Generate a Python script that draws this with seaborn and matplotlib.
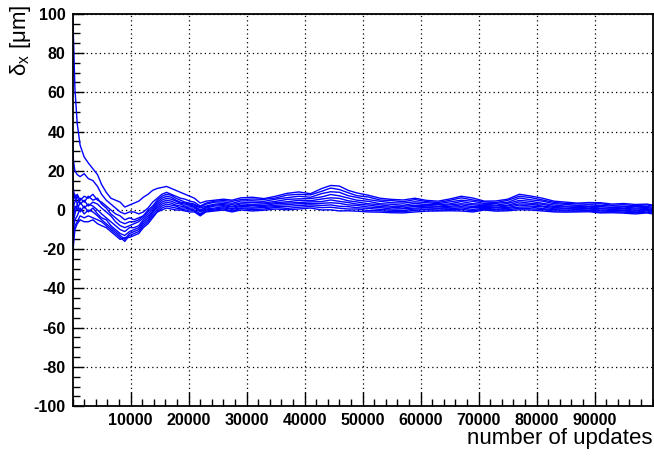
import numpy as np
import pandas as pd
import matplotlib
matplotlib.use("Agg")
import matplotlib.pyplot as plt
import seaborn as sns
from matplotlib.ticker import MultipleLocator

# number of updates at which the alignment constants were sampled
updates = [0, 150, 400, 800, 1300, 2000, 2700, 3500, 4300, 5000, 5800, 6600, 7400,
           8200, 9000, 9800, 10600, 11400, 12200, 13000, 13800, 14600, 15400, 16200,
           17000, 17800, 18600, 19400, 20200, 21000, 22000, 23000, 24500,
           26000, 27500, 29000, 31000, 33000, 35000, 37000, 39000, 41000, 43000,
           44500, 46000, 47500, 49000, 51000, 53000, 55000, 57000, 59000, 61000,
           63000, 65000, 67000, 69000, 71000, 73000, 75000, 77000, 79000, 81000,
           83000, 85000, 87000, 89000, 91000, 93000, 95000, 97000, 99000, 100000]

# delta_x [um] for each module
mod1 = [100, 88, 62, 44, 33, 27, 24, 21, 18, 13, 9, 6, 5, 4, 1.5, 2.5, 3.5, 4.5, 6.5, 8,
        10, 11, 11.5, 12, 11, 10, 9, 8, 7, 6, 3.5, 4.5, 5,
        5.5, 5.0, 6.2, 6.5, 5.8, 7.0, 8.5, 9.2, 8.3, 11.0, 12.5, 12.2, 10.0, 8.7, 7.5,
        6.0, 5.4, 5.1, 6.0, 4.9, 4.5, 5.6, 7.0, 6.1, 4.5, 4.6, 5.5, 8.0, 7.1, 6.0, 4.5,
        4.0, 3.5, 3.8, 3.7, 3.0, 3.3, 2.8, 3.0, 2.5]
mod2 = [40, 25, 20, 18, 17, 18.5, 16, 15, 12, 8, 5, 3, 1, -1, -2, -1, -1, -2, -1, 1,
        4, 6, 8, 9, 8, 7, 6, 5.5, 4.5, 4, 2, 3.5, 4.5,
        4.8, 4.4, 5.3, 5.6, 5.4, 6.1, 7.6, 8.0, 7.7, 9.6, 11.2, 10.4, 8.8, 7.3, 6.6,
        5.1, 4.8, 4.2, 5.3, 4.3, 3.8, 4.9, 6.2, 5.1, 4.1, 3.8, 4.9, 7.0, 6.3, 5.1, 3.9,
        3.3, 3.1, 3.0, 3.2, 2.4, 2.7, 2.2, 2.6, 2.0]
mod3 = [20, 10, 6, 8, 5, 7, 6, 8, 5, 4, 2, 0, -2, -3, -5, -4, -5, -4, -3, 0,
        2, 5, 7, 8, 7.5, 6, 5, 4, 3.5, 3, 1.5, 3, 4,
        4.1, 3.4, 4.6, 4.7, 4.4, 5.5, 6.3, 7.0, 6.5, 8.4, 9.3, 9.0, 7.3, 6.4, 5.3,
        4.4, 3.7, 3.5, 4.2, 3.7, 3.2, 4.1, 5.0, 4.4, 3.3, 3.4, 3.9, 6.1, 5.2, 4.5, 3.2,
        2.9, 2.3, 2.6, 2.3, 2.0, 1.9, 1.7, 1.8, 1.4]
mod4 = [10, 5, 8, 3, 6, 4, 7, 5, 6, 3, 1, -2, -4, -6, -7, -6, -6, -5, -3, -1,
        1, 4, 6, 7, 6.5, 5, 4, 3.5, 3, 2.5, 1, 2, 3,
        3.3, 2.8, 3.6, 3.9, 3.6, 4.4, 5.4, 5.7, 5.8, 6.7, 7.9, 7.2, 6.1, 5.0, 4.4,
        3.2, 2.9, 2.4, 3.4, 2.8, 2.7, 3.1, 4.3, 3.2, 2.9, 2.5, 3.3, 4.9, 4.4, 3.4, 2.5,
        2.0, 1.9, 1.8, 1.8, 1.2, 1.5, 1.0, 1.3, 0.8]
mod5 = [5, 2, 4, 7, 3, 5, 2, 4, 3, 1, -1, -3, -6, -8, -9, -8, -7, -6, -4, -2,
        0, 3, 5, 6, 5.5, 4.5, 3.5, 3, 2.5, 2, 0, 1.5, 2.5,
        2.8, 1.9, 3.1, 2.9, 3.1, 3.7, 4.2, 4.9, 4.7, 5.6, 6.2, 5.9, 4.7, 4.1, 3.2,
        2.6, 1.9, 1.9, 2.4, 2.4, 1.9, 2.6, 3.2, 2.6, 2.2, 2.1, 2.4, 4.1, 3.4, 2.9, 1.7,
        1.6, 1.2, 1.5, 1.0, 0.9, 0.8, 0.5, 0.7, 0.3]
mod6 = [0, -4, 2, 0, 4, 1, 3, 2, 0, -2, -4, -6, -8, -10, -11, -9, -9, -8, -5, -3,
        -1, 2, 4, 5, 4.5, 3.5, 3, 2, 2, 1.5, -0.5, 1, 2,
        2.2, 1.5, 2.3, 2.4, 2.3, 3.2, 3.5, 3.8, 4.1, 4.3, 5.1, 4.4, 3.8, 3.0, 2.5,
        1.7, 1.4, 1.0, 1.9, 1.6, 1.6, 1.8, 2.6, 1.7, 1.9, 1.4, 2.0, 3.1, 2.9, 2.0, 1.3,
        0.9, 0.9, 0.8, 0.7, 0.2, 0.5, -0.1, 0.4, -0.2]
mod7 = [-8, -6, -2, 3, -1, 2, -1, 1, -2, -4, -5, -8, -10, -12, -13, -11, -10, -9, -6, -4,
        -1, 1, 3, 4, 3.5, 2.5, 2, 1.5, 1, 1, -1, 0.5, 1,
        1.7, 0.7, 1.9, 1.5, 1.8, 2.4, 2.7, 3.2, 3.2, 3.4, 3.7, 3.4, 2.6, 2.3, 1.5,
        1.2, 0.5, 0.6, 1.0, 1.3, 0.9, 1.4, 1.7, 1.2, 1.3, 1.1, 1.2, 2.5, 2.0, 1.6, 0.6,
        0.6, 0.3, 0.5, 0.0, -0.2, -0.2, -0.6, -0.1, -0.7]
mod8 = [-15, -9, -5, -3, 1, -2, 0, -1, -3, -5, -7, -9, -11, -13, -15, -12, -11, -10, -7, -5,
        -2, 0, 2, 3, 2.5, 2, 1, 1, 0.5, 0, -2, 0, 0.5,
        1.1, 0.3, 1.1, 0.9, 1.3, 1.7, 1.8, 2.3, 2.6, 2.3, 2.6, 1.9, 1.7, 1.2, 0.8,
        0.3, -0.1, -0.3, 0.5, 0.5, 0.6, 0.6, 1.1, 0.3, 0.9, 0.4, 0.8, 1.5, 1.5, 0.7, 0.2,
        -0.1, 0.0, -0.2, -0.5, -0.7, -0.5, -1.1, -0.5, -1.1]
mod9 = [-22, -12, -8, -6, -3, -4, -3, -4, -5, -6, -8, -10, -12, -14, -16, -13, -12, -11, -8, -6,
        -3, -1, 1, 2, 1.5, 1, 0.5, 0, 0, -0.5, -2.5, -0.5, 0,
        0.6, -0.5, 0.7, 0.2, 0.5, 1.3, 0.8, 1.4, 1.8, 1.2, 1.4, 0.9, 0.5, 0.5, -0.3,
        -0.4, -0.8, -0.9, -0.2, 0.2, -0.1, 0.2, 0.4, -0.4, 0.4, 0.1, 0.1, 0.9, 0.6, 0.3, -0.5,
        -0.5, -0.6, -0.4, -1.1, -1.0, -1.1, -1.4, -1.2, -1.6]
mod10 = [-28, -18, -10, -7, -5, -6, -6, -5, -7, -8, -9, -11, -13, -15, -14, -14, -13, -12, -9, -7,
         -4, -1, 0, 1, 0.5, 0, 0, -0.5, -1, -1, -3, -1, -0.5,
         0.0, -1.0, 0.0, -0.5, -0.1, 0.5, 0.1, 0.5, 1.0, 0.0, 0.1, -0.5, -0.4, -0.6, -1.0,
         -1.1, -1.4, -1.5, -1.0, -0.6, -0.5, -0.4, -0.5, -1.0, 0.0, -0.6, -0.4, 0.1, 0.0, -0.5, -1.0,
         -1.1, -1.0, -0.9, -1.5, -1.4, -1.6, -2.0, -1.5, -2.0]

modules = [mod1, mod2, mod3, mod4, mod5, mod6, mod7, mod8, mod9, mod10]
frames = []
for i, vals in enumerate(modules):
    frames.append(pd.DataFrame({'updates': updates, 'dx': vals, 'module': f'm{i + 1}'}))
df = pd.concat(frames, ignore_index=True)

sns.set_style("ticks")
plt.rcParams['font.family'] = ['Liberation Sans', 'DejaVu Sans']
plt.rcParams['mathtext.fontset'] = 'custom'
plt.rcParams['mathtext.rm'] = 'Liberation Sans'
plt.rcParams['axes.unicode_minus'] = False
plt.rcParams['text.color'] = 'black'
plt.rcParams['xtick.labelcolor'] = 'black'
plt.rcParams['ytick.labelcolor'] = 'black'

fig = plt.figure(figsize=(6.54, 4.61), dpi=100)
ax = fig.add_axes([0.111, 0.119, 0.887, 0.851])

sns.lineplot(data=df, x='updates', y='dx', hue='module', palette=['#0000ff'] * 10,
             estimator=None, sort=False, legend=False, linewidth=1.0, ax=ax)

ax.set_xlim(0, 100000)
ax.set_ylim(-100, 100)
ax.set_xticks(np.arange(10000, 100000, 10000))
ax.set_xticklabels([str(v) for v in range(10000, 100000, 10000)])
ax.xaxis.set_minor_locator(MultipleLocator(2000))
ax.set_yticks(np.arange(-100, 101, 20))
ax.set_yticklabels([str(v) for v in range(-100, 101, 20)])
ax.yaxis.set_minor_locator(MultipleLocator(5))

ax.grid(True, which='major', color='black', linestyle=(0, (1, 2.5)), linewidth=0.9)
ax.tick_params(axis='both', which='both', direction='in', color='black')
ax.tick_params(axis='y', which='major', length=8, width=1, pad=5)
ax.tick_params(axis='y', which='minor', length=5, width=1)
ax.tick_params(axis='x', which='major', length=10, width=1, pad=5)
ax.tick_params(axis='x', which='minor', length=5, width=1)
for lab in ax.get_xticklabels() + ax.get_yticklabels():
    lab.set_fontweight('bold')
    lab.set_fontsize(11.5)
    lab.set_color('black')

for sp in ax.spines.values():
    sp.set_visible(True)
    sp.set_color('black')
    sp.set_linewidth(1.3)

ax.set_xlabel('')
ax.set_ylabel('')
fig.text(0.997, 0.025, 'number of updates', ha='right', va='bottom', fontsize=16, color='black')
fig.text(0.032, 0.99, r'δ$_{\mathrm{x}}$ [μm]', rotation=90, ha='center', va='top',
         fontsize=16, color='black')

fig.savefig('out.png', dpi=100)
